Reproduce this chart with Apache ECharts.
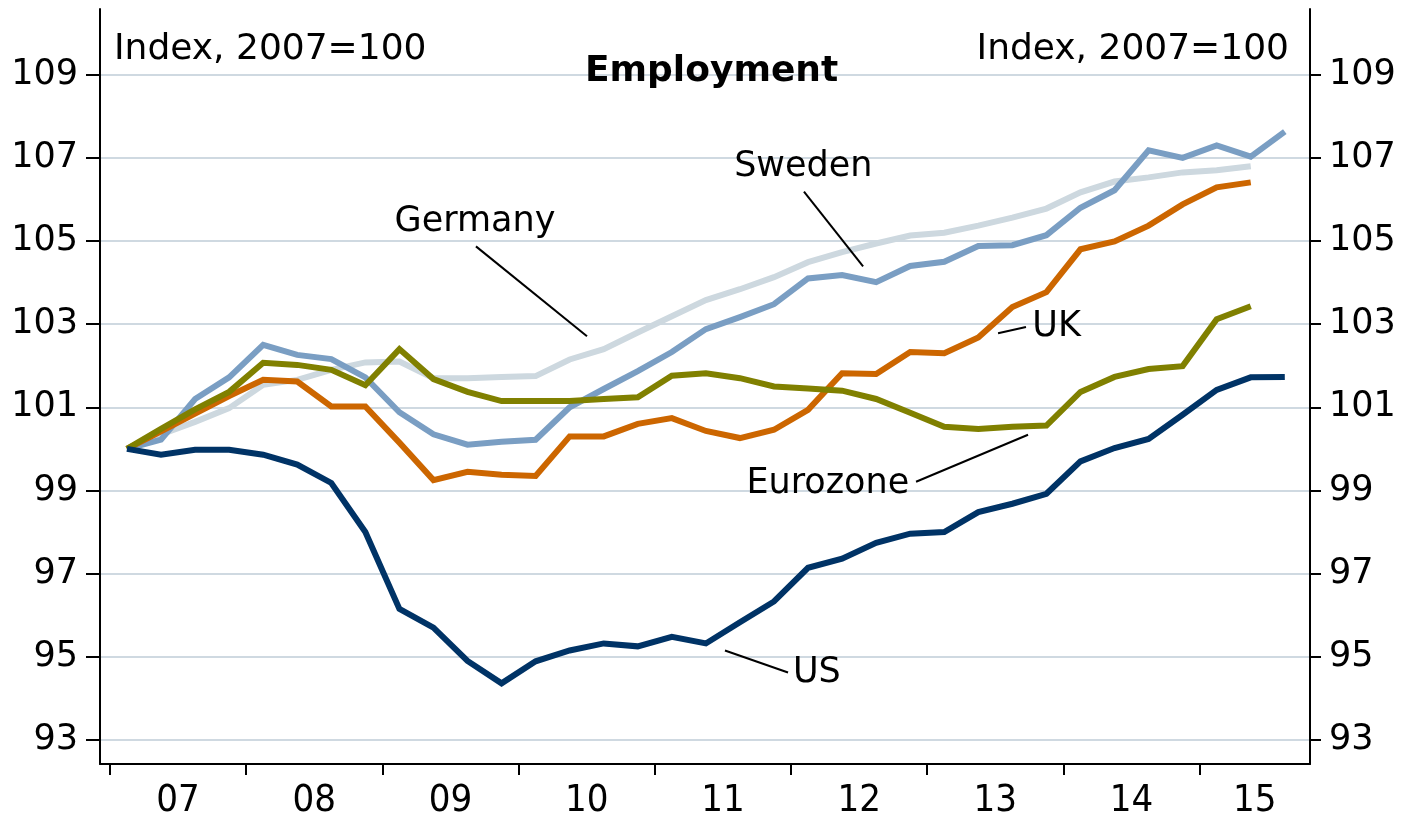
<!DOCTYPE html>
<html>
<head>
<meta charset="utf-8">
<script src="https://cdn.jsdelivr.net/npm/echarts@6/dist/echarts.min.js"></script>
<style>
  html, body { margin: 0; padding: 0; background: #fff; }
  #chart { width: 1405px; height: 820px; }
</style>
</head>
<body>
<div id="chart"></div>
<script>
// quarters 2007Q1 .. 2015Q3
const quarters = [];
for (let y = 2007; y <= 2015; y++) {
  for (let q = 1; q <= 4; q++) {
    if (y === 2015 && q > 3) break;
    quarters.push(y + "Q" + q);
  }
}

const usData = [100.0, 99.86, 99.98, 99.98, 99.86, 99.62, 99.18, 98.0, 96.15, 95.7, 94.9, 94.36,
  94.89, 95.15, 95.32, 95.25, 95.48, 95.32, 95.83, 96.33, 97.14, 97.36, 97.74, 97.96,
  98.0, 98.48, 98.68, 98.92, 99.7, 100.02, 100.24, 100.82, 101.42, 101.72, 101.73];
const swedenData = [100.0, 100.22, 101.2, 101.72, 102.5, 102.26, 102.16, 101.72, 100.88, 100.35, 100.1, 100.17,
  100.22, 101.0, 101.44, 101.87, 102.33, 102.88, 103.17, 103.48, 104.1, 104.18, 104.01, 104.4,
  104.5, 104.88, 104.9, 105.14, 105.8, 106.22, 107.18, 107.0, 107.3, 107.03, 107.63];
const germanyData = [100.0, 100.35, 100.65, 100.98, 101.54, 101.66, 101.9, 102.08, 102.1, 101.7, 101.7, 101.73,
  101.75, 102.15, 102.4, 102.8, 103.19, 103.58, 103.84, 104.13, 104.49, 104.73, 104.94, 105.13,
  105.2, 105.37, 105.56, 105.78, 106.17, 106.43, 106.53, 106.65, 106.7, 106.8];
const ukData = [100.0, 100.42, 100.85, 101.27, 101.66, 101.62, 101.02, 101.02, 100.15, 99.25, 99.45, 99.38,
  99.35, 100.3, 100.3, 100.6, 100.74, 100.43, 100.26, 100.46, 100.94, 101.82, 101.8, 102.33,
  102.3, 102.68, 103.41, 103.77, 104.8, 104.99, 105.37, 105.88, 106.29, 106.41];
const euroData = [100.0, 100.48, 100.95, 101.37, 102.07, 102.02, 101.9, 101.53, 102.4, 101.68, 101.37, 101.15,
  101.15, 101.15, 101.2, 101.24, 101.76, 101.82, 101.7, 101.5, 101.45, 101.4, 101.2, 100.87,
  100.53, 100.48, 100.53, 100.56, 101.37, 101.73, 101.92, 101.99, 103.12, 103.43];

const yearTicks = [2007, 2008, 2009, 2010, 2011, 2012, 2013, 2014, 2015];
const yTicks = [93, 95, 97, 99, 101, 103, 105, 107, 109];

// annotation labels: text position and leader line ends, in (year, index) units
const annNames = ["Germany", "Sweden", "UK", "Eurozone", "US"];
const annText = [[2009.68, 105.45], [2012.09, 106.79], [2013.95, 102.93], [2012.27, 99.16], [2012.19, 94.6]];
const annLine = [
  [[2009.687, 104.87], [2010.502, 102.71]],
  [[2012.095, 106.19], [2012.529, 104.39]],
  [[2013.52, 102.78], [2013.725, 102.93]],
  [[2012.918, 99.21], [2013.74, 100.34]],
  [[2011.515, 95.15], [2011.978, 94.62]]
];

const xMin = 2006.927, xMax = 2015.81;
const labelPos = yearTicks.map((y, i) => (y + (i < yearTicks.length - 1 ? y + 1 : xMax)) / 2);

function toXY(arr) {
  return arr.map((v, i) => {
    const y = +quarters[i].slice(0, 4), q = +quarters[i].slice(5);
    return [y + (q - 0.5) / 4, v];
  });
}

const font = "'DejaVu Sans', Verdana, sans-serif";

function lineSeries(name, data, color) {
  return {
    name: name, type: "line", data: toXY(data), symbol: "none",
    lineStyle: { color: color, width: 6, join: "miter", cap: "butt" },
    itemStyle: { color: color }, z: 3, animation: false
  };
}

function yAxisOf(pos, tickLen, margin, grid) {
  return {
    type: "value", min: 92.42, max: 110.58, position: pos,
    axisLine: { show: true, lineStyle: { color: "#000", width: 2 } },
    axisTick: { show: true, customValues: yTicks, length: tickLen, lineStyle: { color: "#000", width: 2 } },
    axisLabel: { customValues: yTicks, color: "#000", fontSize: 35, fontFamily: font, margin: margin },
    splitLine: { show: grid, lineStyle: { color: "#cfd9e1", width: 2 } }
  };
}

const chart = echarts.init(document.getElementById("chart"));
chart.setOption({
  animation: false,
  backgroundColor: "#fff",
  title: [
    { text: "Employment", left: 580, top: 49,
      textStyle: { fontSize: 36, fontWeight: "bold", fontFamily: font, color: "#000" } },
    { text: "Index, 2007=100", left: 109, top: 27,
      textStyle: { fontSize: 36, fontWeight: "normal", fontFamily: font, color: "#000" } },
    { text: "Index, 2007=100", right: 111, top: 27,
      textStyle: { fontSize: 36, fontWeight: "normal", fontFamily: font, color: "#000" } }
  ],
  grid: { left: 100, right: 95, top: 9, bottom: 55, containLabel: false },
  xAxis: {
    type: "value", min: xMin, max: xMax,
    axisLine: { show: true, onZero: false, lineStyle: { color: "#000", width: 2 } },
    axisTick: { show: true, customValues: yearTicks, length: 11, lineStyle: { color: "#000", width: 2 } },
    axisLabel: {
      customValues: labelPos, color: "#000", fontSize: 38, margin: 18,
      fontFamily: "'DejaVu Sans Condensed', 'Liberation Sans Narrow', 'DejaVu Sans', sans-serif",
      formatter: (v) => String(Math.floor(v)).slice(2)
    },
    splitLine: { show: false }
  },
  yAxis: [yAxisOf("left", 14, 22, true), yAxisOf("right", 11, 19, false)],
  series: [
    lineSeries("Germany", germanyData, "#cdd8df"),
    lineSeries("Sweden", swedenData, "#7a9ec3"),
    lineSeries("UK", ukData, "#cc6600"),
    lineSeries("Eurozone", euroData, "#808000"),
    lineSeries("US", usData, "#003366"),
    {
      name: "labels", type: "scatter", symbolSize: 0, z: 5, animation: false,
      itemStyle: { opacity: 1 },
      data: annNames.map((n, i) => ({ name: n, value: annText[i] })),
      label: {
        show: true, position: "inside", formatter: "{b}", opacity: 1,
        color: "#000", fontSize: 35, fontFamily: font, textBorderWidth: 0
      },
      markLine: {
        silent: true, symbol: "none", animation: false,
        label: { show: false },
        lineStyle: { color: "#000", width: 2, type: "solid", opacity: 1 },
        data: annLine.map((l) => [{ coord: l[0] }, { coord: l[1] }])
      }
    }
  ]
});
</script>
</body>
</html>
